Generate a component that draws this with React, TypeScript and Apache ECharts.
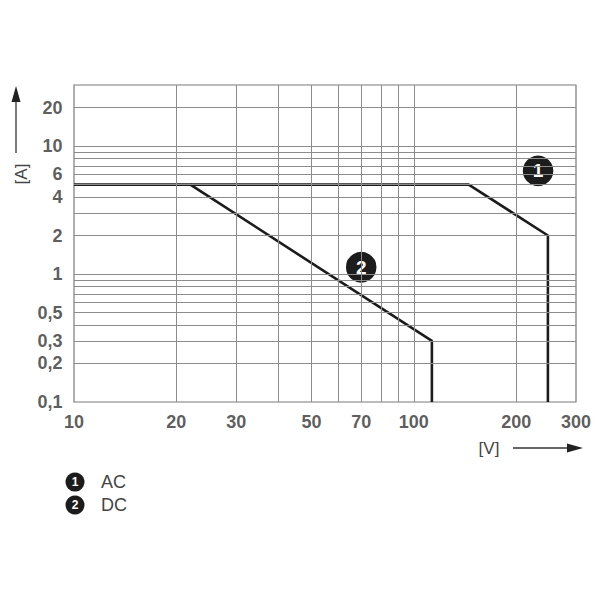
import React, { useEffect, useRef } from "react";
import * as echarts from "echarts";

const xTickValues = [10, 20, 30, 50, 70, 100, 200, 300];
const xTickLabels = ["10", "20", "30", "50", "70", "100", "200", "300"];
const yTickValues = [0.1, 0.2, 0.3, 0.5, 1, 2, 4, 6, 10, 20];
const yTickLabels = ["0,1", "0,2", "0,3", "0,5", "1", "2", "4", "6", "10", "20"];
const xGridValues = [20, 30, 40, 50, 60, 70, 80, 90, 100, 200];
const yGridValues = [0.2, 0.3, 0.4, 0.5, 0.6, 0.7, 0.8, 0.9, 1, 2, 3, 4, 5, 6, 7, 8, 9, 10, 20];
const acVoltage = [10, 145, 248, 248];
const acCurrent = [5, 5, 2, 0.1];
const dcVoltage = [22, 113, 113];
const dcCurrent = [5, 0.3, 0.1];
const curveNames = ["AC", "DC"];
const curveBadges = ["1", "2"];
const badgeVoltage = [232, 70];
const badgeCurrent = [6.4, 1.13];

const FONT = "'Liberation Sans', Arial, Helvetica, sans-serif";
const INK = "#1c1c1c";
const GRID = "#8c8c8c";
const TEXT = "#333333";

export default function App() {
  const ref = useRef<HTMLDivElement>(null);
  useEffect(() => {
    if (!ref.current) return;
    const chart = echarts.init(ref.current, undefined, { renderer: "svg" });
    const hidden = {
      axisLabel: { show: false },
      axisTick: { show: false },
      axisLine: { show: false },
      splitLine: { show: false },
      minorTick: { show: false },
      minorSplitLine: { show: false },
    };
    const legendGraphics: any[] = [];
    curveNames.forEach((name, i) => {
      const cy = 482 + i * 23;
      legendGraphics.push(
        { type: "circle", shape: { cx: 75, cy, r: 9.5 }, style: { fill: INK } },
        {
          type: "text",
          x: 75,
          y: cy,
          style: { text: curveBadges[i], fill: "#fff", font: `bold 12px ${FONT}`, align: "center", verticalAlign: "middle" },
        },
        {
          type: "text",
          x: 101,
          y: cy,
          style: { text: name, fill: "#444", font: `18px ${FONT}`, align: "left", verticalAlign: "middle" },
        }
      );
    });

    chart.setOption({
      animation: false,
      backgroundColor: "#fff",
      grid: {
        left: 74,
        top: 85,
        right: 24,
        bottom: 198,
        show: true,
        borderColor: "#7a7a7a",
        borderWidth: 1.2,
        backgroundColor: "transparent",
      },
      xAxis: { type: "log", logBase: 10, min: 10, max: 300, ...hidden },
      yAxis: { type: "log", logBase: 10, min: 0.1, max: 30, ...hidden },
      series: [
        {
          type: "line",
          name: "grid",
          data: [],
          silent: true,
          z: 1,
          markLine: {
            silent: true,
            symbol: ["none", "none"],
            label: { show: false },
            lineStyle: { color: GRID, width: 1, type: "solid" },
            data: [
              ...xGridValues.map((v) => ({ xAxis: v })),
              ...yGridValues.map((v) => ({ yAxis: v })),
            ],
          },
        },
        {
          type: "line",
          name: curveNames[0],
          data: acVoltage.map((v, i) => [v, acCurrent[i]]),
          symbol: "none",
          z: 3,
          lineStyle: { color: INK, width: 2.6 },
        },
        {
          type: "line",
          name: curveNames[1],
          data: dcVoltage.map((v, i) => [v, dcCurrent[i]]),
          symbol: "none",
          z: 3,
          lineStyle: { color: INK, width: 2.6 },
        },
        {
          type: "scatter",
          name: "badges",
          z: 4,
          symbol: "circle",
          symbolSize: 32,
          itemStyle: { color: INK, opacity: 1, borderColor: "#fff", borderWidth: 1.5 },
          label: {
            show: true,
            position: "inside",
            color: "#fff",
            fontFamily: FONT,
            fontWeight: "bold",
            fontSize: 19,
            formatter: (p: any) => curveBadges[p.dataIndex],
          },
          data: badgeVoltage.map((v, i) => [v, badgeCurrent[i]]),
        },
        {
          type: "scatter",
          name: "xTicks",
          z: 5,
          silent: true,
          clip: false,
          symbolSize: 1,
          itemStyle: { color: "rgba(0,0,0,0)" },
          label: {
            show: true,
            position: "bottom",
            distance: 10,
            color: TEXT,
            fontFamily: FONT,
            fontWeight: "bold",
            fontSize: 18,
            formatter: (p: any) => xTickLabels[p.dataIndex],
          },
          data: xTickValues.map((v) => [v, 0.1]),
        },
        {
          type: "scatter",
          name: "yTicks",
          z: 5,
          silent: true,
          clip: false,
          symbolSize: 1,
          itemStyle: { color: "rgba(0,0,0,0)" },
          label: {
            show: true,
            position: "left",
            distance: 11,
            color: TEXT,
            fontFamily: FONT,
            fontWeight: "bold",
            fontSize: 18,
            formatter: (p: any) => yTickLabels[p.dataIndex],
          },
          data: yTickValues.map((v) => [10, v]),
        },
      ],
      graphic: [
        { type: "line", shape: { x1: 16, y1: 153, x2: 16, y2: 100 }, style: { stroke: "#333", lineWidth: 1.3 } },
        { type: "polygon", shape: { points: [[16, 86], [11.5, 102], [20.5, 102]] }, style: { fill: "#222" } },
        {
          type: "text",
          x: 21,
          y: 174,
          rotation: Math.PI / 2,
          style: { text: "[A]", fill: "#444", font: `17px ${FONT}`, align: "center", verticalAlign: "middle" },
        },
        {
          type: "text",
          x: 489,
          y: 448,
          style: { text: "[V]", fill: "#444", font: `17px ${FONT}`, align: "center", verticalAlign: "middle" },
        },
        { type: "line", shape: { x1: 513, y1: 448, x2: 570, y2: 448 }, style: { stroke: "#333", lineWidth: 1.3 } },
        { type: "polygon", shape: { points: [[583, 448], [567, 443.5], [567, 452.5]] }, style: { fill: "#222" } },
        ...legendGraphics,
      ],
    });
    return () => chart.dispose();
  }, []);
  return (
    <div
      ref={ref}
      style={{ position: "fixed", left: 0, top: 0, width: 600, height: 600, background: "#fff" }}
    />
  );
}
